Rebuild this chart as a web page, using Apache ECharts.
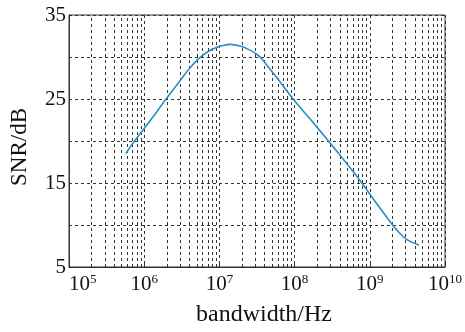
<!DOCTYPE html>
<html>
<head>
<meta charset="utf-8">
<script src="https://cdn.jsdelivr.net/npm/echarts@6/dist/echarts.min.js"></script>
<style>
  html, body { margin: 0; padding: 0; background: #fff; }
  #chart { width: 465px; height: 332px; }
</style>
</head>
<body>
<div id="chart"></div>
<script>
// values
const bandwidthHz = [5.70e5, 7.31e5, 1.22e6, 1.92e6, 3.19e6, 3.98e6, 5.30e6, 7.08e6, 9.27e6, 1.12e7,
  1.41e7, 1.88e7, 2.51e7, 3.16e7, 3.65e7, 4.47e7, 5.75e7, 9.55e7, 1.58e8, 2.82e8, 4.85e8, 7.82e8,
  1.27e9, 2.01e9, 2.45e9, 3.02e9, 3.72e9, 4.53e9]
const snrDb = [18.5, 19.9, 22.5, 24.9, 27.5, 28.6, 29.8, 30.65, 31.15, 31.38,
  31.5, 31.3, 30.85, 30.3, 29.8, 28.8, 27.6, 25, 22.7, 20, 17.4, 15,
  12.4, 10, 9.1, 8.35, 7.9, 7.6]
const yTickLabels = [5, 15, 25, 35]

const serif = "'Liberation Serif', 'Times New Roman', serif"
const gridLine = { type: [3, 3], color: '#333', width: 1 }

// minor log grid lines 2..9 x each decade
const minorLines = []
for (let e = 5; e < 10; e++) {
  for (let m = 2; m <= 9; m++) {
    minorLines.push({ xAxis: m * Math.pow(10, e) })
  }
}

const chart = echarts.init(document.getElementById('chart'))
const option = {
  animation: false,
  grid: {
    left: 68, right: 19, top: 15, bottom: 53,
    show: true, borderColor: '#333', borderWidth: 1
  },
  xAxis: {
    type: 'log',
    logBase: 10,
    min: 1e5,
    max: 1e10,
    name: 'bandwidth/Hz',
    nameLocation: 'middle',
    nameGap: 36,
    nameTextStyle: { fontFamily: serif, fontSize: 24, color: '#111', padding: [0, 0, 0, 14] },
    axisLine: { lineStyle: { color: '#333', width: 1 } },
    axisTick: { inside: true, length: 4, lineStyle: { color: '#333' } },
    splitLine: { show: true, lineStyle: gridLine },
    axisLabel: {
      margin: 6,
      alignMinLabel: 'left',
      formatter: function (v) {
        return '{b|10}{s|' + Math.round(Math.log10(v)) + '}'
      },
      rich: {
        b: { fontFamily: serif, fontSize: 21, color: '#111' },
        s: { fontFamily: serif, fontSize: 13, color: '#111', padding: [0, 0, 9, 0] }
      }
    }
  },
  yAxis: {
    type: 'value',
    min: 5,
    max: 35,
    interval: 5,
    name: 'SNR/dB',
    nameLocation: 'middle',
    nameGap: 38,
    nameRotate: 90,
    nameTextStyle: { fontFamily: serif, fontSize: 23, color: '#111', padding: [0, 12, 0, 0] },
    axisLine: { show: true, lineStyle: { color: '#333', width: 1 } },
    axisTick: { show: true, inside: true, length: 3, lineStyle: { color: '#333' } },
    splitLine: { show: true, lineStyle: gridLine },
    axisLabel: {
      margin: 3,
      fontFamily: serif,
      fontSize: 21,
      color: '#111',
      formatter: function (v) {
        return yTickLabels.indexOf(v) >= 0 ? String(v) : ''
      }
    }
  },
  series: [{
    type: 'line',
    smooth: 0.3,
    showSymbol: false,
    data: bandwidthHz.map((x, i) => [x, snrDb[i]]),
    lineStyle: { color: '#2a8fc4', width: 1.6 },
    itemStyle: { color: '#2a8fc4' },
    z: 5,
    markLine: {
      silent: true,
      symbol: 'none',
      label: { show: false },
      lineStyle: gridLine,
      data: minorLines
    }
  }]
}
chart.setOption(option)
</script>
</body>
</html>
